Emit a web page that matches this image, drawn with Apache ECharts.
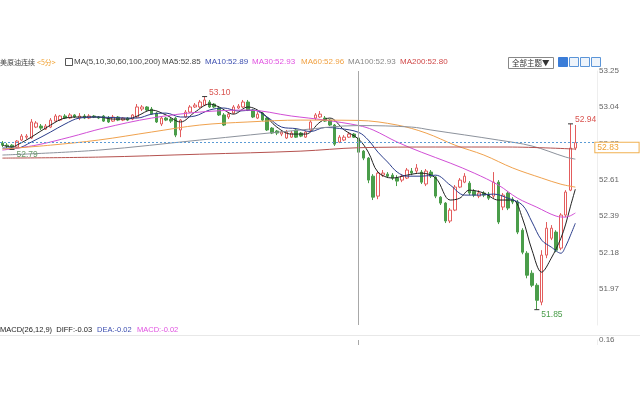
<!DOCTYPE html>
<html><head><meta charset="utf-8">
<script src="https://cdn.jsdelivr.net/npm/echarts@6/dist/echarts.min.js"></script>
<style>html,body{margin:0;padding:0;background:#fff}#c{width:640px;height:345px}</style>
</head><body><div id="c"></div>
<script>
// OHLC: [open, close, low, high]
const candles = [
[52.827,52.815,52.804,52.839],[52.815,52.810,52.798,52.827],[52.815,52.804,52.79,52.821],[52.804,52.839,52.798,52.845],
[52.845,52.868,52.839,52.880],[52.862,52.868,52.851,52.880],[52.857,52.951,52.851,52.968],[52.921,52.945,52.915,52.956],
[52.927,52.915,52.904,52.939],[52.909,52.927,52.904,52.939],[52.921,52.962,52.915,52.974],[52.956,52.986,52.951,52.997],
[52.962,52.986,52.956,52.992],[52.986,52.974,52.968,52.997],[52.974,52.992,52.968,53.003],[52.992,52.980,52.974,52.997],
[52.974,52.986,52.962,53.003],[52.986,52.974,52.968,52.997],[52.974,52.986,52.968,52.997],[52.986,52.980,52.974,52.992],
[52.980,52.974,52.968,52.986],[52.986,52.956,52.951,52.992],[52.974,52.951,52.945,52.986],[52.956,52.980,52.951,52.992],
[52.980,52.962,52.956,52.986],[52.962,52.974,52.956,52.980],[52.974,52.962,52.956,52.980],[52.968,52.992,52.962,52.997],
[52.980,53.039,52.974,53.056],[53.027,53.039,53.015,53.050],[53.039,53.021,53.015,53.044],[53.027,52.997,52.992,53.039],
[53.003,52.951,52.945,53.009],[52.939,52.974,52.927,52.986],[52.974,52.962,52.956,52.980],[52.968,52.956,52.945,52.974],
[52.974,52.874,52.862,52.980],[52.904,52.962,52.862,52.968],[52.980,53.009,52.974,53.021],[53.009,53.039,53.003,53.050],
[53.039,53.050,53.033,53.062],[53.039,53.068,53.033,53.080],[53.050,53.080,53.044,53.10],[53.068,53.039,53.033,53.080],
[53.056,53.039,53.033,53.062],[53.033,52.992,52.986,53.044],[52.992,52.933,52.927,53.003],[52.980,52.997,52.968,53.009],
[53.003,53.039,52.997,53.050],[53.033,53.044,53.027,53.056],[53.039,53.068,53.033,53.080],[53.068,53.021,53.015,53.080],
[53.021,52.980,52.974,53.027],[52.974,52.997,52.968,53.009],[53.003,52.962,52.956,53.009],[52.974,52.904,52.898,52.980],
[52.915,52.886,52.880,52.921],[52.898,52.886,52.874,52.904],[52.880,52.892,52.868,52.898],[52.857,52.892,52.851,52.904],
[52.862,52.886,52.857,52.898],[52.904,52.862,52.857,52.909],[52.886,52.868,52.862,52.892],[52.862,52.892,52.857,52.898],
[52.904,52.951,52.892,52.962],[52.974,52.992,52.962,53.003],[52.980,52.997,52.974,53.015],[52.974,52.956,52.951,52.986],
[52.962,52.933,52.927,52.968],[52.933,52.821,52.810,52.939],[52.833,52.862,52.827,52.874],[52.845,52.862,52.839,52.874],
[52.862,52.880,52.857,52.892],[52.880,52.862,52.857,52.886],[52.857,52.774,52.768,52.862],[52.780,52.739,52.727,52.786],
[52.739,52.610,52.592,52.745],[52.633,52.510,52.493,52.645],[52.516,52.651,52.498,52.663],[52.639,52.651,52.628,52.669],
[52.645,52.633,52.622,52.657],[52.639,52.622,52.610,52.651],[52.622,52.604,52.575,52.639],[52.610,52.633,52.598,52.645],
[52.622,52.669,52.616,52.681],[52.663,52.651,52.639,52.681],[52.663,52.681,52.651,52.704],[52.657,52.598,52.587,52.669],
[52.587,52.663,52.575,52.675],[52.657,52.633,52.622,52.669],[52.628,52.516,52.504,52.633],[52.510,52.475,52.464,52.516],
[52.475,52.370,52.358,52.481],[52.370,52.434,52.358,52.446],[52.434,52.569,52.428,52.581],[52.569,52.610,52.563,52.622],
[52.598,52.633,52.592,52.651],[52.592,52.534,52.522,52.604],[52.545,52.522,52.510,52.557],[52.516,52.534,52.504,52.551],
[52.534,52.522,52.510,52.545],[52.528,52.504,52.493,52.540],[52.516,52.598,52.504,52.657],[52.598,52.364,52.352,52.610],
[52.452,52.522,52.434,52.534],[52.534,52.446,52.434,52.545],[52.498,52.481,52.469,52.510],[52.481,52.305,52.293,52.493],
[52.316,52.187,52.175,52.328],[52.181,52.052,52.034,52.193],[52.064,51.993,51.982,52.081],[51.993,51.905,51.85,52.005],
[51.894,52.170,51.876,52.199],[52.170,52.328,52.152,52.364],[52.269,52.328,52.258,52.346],[52.305,52.199,52.187,52.316],
[52.211,52.405,52.199,52.416],[52.405,52.540,52.393,52.551],[52.551,52.798,52.545,52.94],[52.798,52.83,52.786,52.933]
];
// moving averages read at selected bars: [barIndex, value]
const ma5 = [[0,52.815],[2,52.804],[3,52.815],[6,52.862],[10,52.933],[13,52.974],[16,52.980],[20,52.980],[23,52.968],[26,52.968],[28,52.986],[31,53.021],[34,52.992],[37,52.951],[40,53.009],[43,53.056],[45,53.039],[48,52.997],[51,53.039],[54,53.003],[57,52.921],[60,52.880],[63,52.880],[66,52.951],[68,52.974],[71,52.904],[74,52.85],[76,52.774],[78,52.657],[81,52.622],[84,52.639],[87,52.651],[90,52.622],[93,52.493],[95,52.504],[97,52.551],[100,52.534],[103,52.493],[106,52.493],[108,52.387],[110,52.199],[112,52.070],[114,52.152],[116,52.269],[117,52.352],[118,52.457],[119,52.557]];
const ma10 = [[0,52.798],[3,52.798],[6,52.833],[10,52.892],[13,52.939],[16,52.974],[20,52.980],[26,52.974],[28,52.974],[31,52.997],[34,53.003],[37,52.980],[40,52.986],[43,53.021],[46,53.033],[49,53.015],[52,53.021],[55,52.980],[58,52.921],[61,52.912],[64,52.895],[67,52.919],[70,52.913],[74,52.89],[76,52.845],[78,52.774],[80,52.716],[82,52.657],[84,52.633],[87,52.633],[90,52.639],[93,52.581],[96,52.522],[99,52.522],[102,52.528],[105,52.504],[108,52.464],[110,52.364],[112,52.258],[114,52.217],[116,52.181],[117,52.222],[118,52.287],[119,52.357]];
const ma30 = [[0,52.786],[7,52.815],[14,52.862],[21,52.915],[31,52.974],[41,53.009],[51,53.021],[60,52.986],[67,52.962],[74,52.93],[77,52.904],[82,52.833],[87,52.774],[93,52.710],[98,52.651],[103,52.581],[107,52.504],[111,52.451],[115,52.399],[117,52.393],[119,52.417]];
const ma60 = [[0,52.792],[10,52.815],[20,52.845],[31,52.892],[41,52.933],[51,52.951],[62,52.962],[74,52.96],[82,52.933],[88,52.886],[94,52.815],[100,52.757],[106,52.681],[112,52.622],[116,52.586],[119,52.569]];
const ma100 = [[0,52.757],[20,52.786],[41,52.845],[62,52.904],[74,52.93],[85,52.921],[89,52.904],[103,52.845],[110,52.810],[117,52.745],[119,52.733]];
const ma200 = [[0,52.739],[20,52.745],[41,52.762],[62,52.780],[74,52.80],[90,52.804],[105,52.804],[119,52.792]];
const categories = candles.map((_, i) => String(i));
const yTicks = ['51.76','51.97','52.18','52.39','52.61','52.82','53.04','53.25'];
const yMin = 51.76, yMax = 53.25;
const lastPrice = 52.83;
const cursorIndex = 74;
const highMark = {idx: '42', v: 53.10}, lowMark0 = {idx: '2', v: 52.79};
const highMark2 = {idx: '118', v: 52.94}, lowMark = {idx: '111', v: 51.85};

const xData = categories.concat(['', '', '', '']);
const step = (yMax - yMin) / 7;
const font = '"Liberation Sans", Arial, "Noto Sans CJK SC", sans-serif';
const cjk = '"Noto Sans CJK SC", sans-serif';
const up = '#e35d5d', down = '#4a9d4a';

function mp(m, text, color, above) {
  return {coord: [m.idx, m.v], symbol: 'rect', symbolSize: [5, 1], itemStyle: {color: '#333'},
    label: {show: true, formatter: text, position: 'right', distance: 2, offset: [0, above ? -4 : 5],
      color: color, fontSize: 8.5, fontFamily: font}};
}
function line(name, data, color) {
  return {name, type: 'line', data, smooth: 0.35, symbol: 'none', xAxisIndex: 0, yAxisIndex: 0,
    lineStyle: {width: 1, color}, itemStyle: {color}, silent: true, z: 3};
}
const chart = echarts.init(document.getElementById('c'), null, {renderer: 'canvas'});
const txt = (x, y, s, fill, f) => ({type: 'text', left: x, top: y,
  style: {text: s, fill, font: f || ('8px ' + font)}, silent: true});
const pointer = {show: true, value: cursorIndex, status: 'show', type: 'line', snap: true,
  label: {show: false}, lineStyle: {color: '#a8a8a8', width: 1, type: 'solid'}, triggerTooltip: false};
chart.setOption({
  animation: false,
  backgroundColor: '#fff',
  axisPointer: {link: [{xAxisIndex: 'all'}]},
  grid: [
    {left: 0, top: 71, width: 597, height: 254},
    {left: 0, top: 340, width: 597, height: 60}
  ],
  xAxis: [
    {type: 'category', data: xData, gridIndex: 0, boundaryGap: true,
      axisLine: {show: false}, axisTick: {show: false}, axisLabel: {show: false}, splitLine: {show: false},
      axisPointer: pointer},
    {type: 'category', data: xData, gridIndex: 1, boundaryGap: true,
      axisLine: {show: false}, axisTick: {show: false}, axisLabel: {show: false}, splitLine: {show: false},
      axisPointer: pointer}
  ],
  yAxis: [
    {type: 'value', gridIndex: 0, position: 'right', min: yMin, max: yMax, interval: step, scale: true,
      axisLine: {show: true, lineStyle: {color: '#eeeeee'}}, axisTick: {show: false}, splitLine: {show: false},
      axisLabel: {margin: 2, color: '#666', fontSize: 8, fontFamily: font,
        formatter: (v) => { const k = Math.round((v - yMin) / step); return k === 0 ? '' : yTicks[k]; }}},
    {type: 'value', gridIndex: 1, position: 'right', min: -0.16, max: 0.16, interval: 0.16,
      axisLine: {show: true, lineStyle: {color: '#eeeeee'}}, axisTick: {show: false}, splitLine: {show: false},
      axisLabel: {margin: 2, color: '#666', fontSize: 8, fontFamily: font,
        formatter: (v) => v > 0.1 ? '0.16' : ''}}
  ],
  series: [
    {type: 'candlestick', data: candles, xAxisIndex: 0, yAxisIndex: 0, barWidth: 3, z: 2,
      itemStyle: {color: '#ffffff', color0: down, borderColor: up, borderColor0: down, borderWidth: 1},
      markLine: {silent: true, symbol: ['none', 'none'], animation: false,
        data: [{yAxis: lastPrice}], label: {show: false},
        lineStyle: {color: '#5b9bd5', type: [2, 2], width: 1}},
      markPoint: {silent: true, animation: false, data: [
        mp(highMark, '53.10', '#d9534f', true), mp(lowMark0, '52.79', '#6a9a6a', false),
        mp(highMark2, '52.94', '#d9534f', true), mp(lowMark, '51.85', '#4a9d4a', false),
        {coord: ['119', lastPrice], symbol: 'rect', symbolSize: 0,
          label: {show: true, position: 'right', distance: 20, offset: [0, 5], formatter: String(lastPrice),
            color: '#f0a030', fontSize: 8.5, fontFamily: font, backgroundColor: '#fff',
            borderColor: '#f0b050', borderWidth: 1, padding: [1, 20, 0, 2]}}
      ]}},
    line('MA5', ma5, '#222222'),
    line('MA10', ma10, '#2c3e8c'),
    line('MA30', ma30, '#d14fd6'),
    line('MA60', ma60, '#f0a24e'),
    line('MA100', ma100, '#8c929c'),
    line('MA200', ma200, '#b5524f'),
    {type: 'bar', data: [], xAxisIndex: 1, yAxisIndex: 1}
  ],
  graphic: [
    txt(0, 58.5, '美原油连续', '#444', '7px ' + cjk),
    txt(37, 58.5, '<5分>', '#f0a030', '7px ' + cjk),
    {type: 'rect', left: 65, top: 58, shape: {width: 7, height: 7}, style: {fill: '#fff', stroke: '#555', lineWidth: 1}, silent: true},
    txt(74, 58, 'MA(5,10,30,60,100,200)', '#444'),
    txt(162, 58, 'MA5:52.85', '#444'),
    txt(205, 58, 'MA10:52.89', '#3d4fb0'),
    txt(252, 58, 'MA30:52.93', '#e050e0'),
    txt(301, 58, 'MA60:52.96', '#f0a040'),
    txt(348, 58, 'MA100:52.93', '#888'),
    txt(400, 58, 'MA200:52.80', '#d04848'),
    {type: 'rect', left: 508, top: 57, shape: {width: 45, height: 11}, style: {fill: '#fff', stroke: '#888', lineWidth: 1}, silent: true},
    txt(512, 59, '全部主题▼', '#333', '7.5px ' + cjk),
    {type: 'rect', left: 558, top: 57, shape: {width: 9, height: 9}, style: {fill: '#3b7dd8', stroke: '#3b7dd8'}, silent: true},
    {type: 'rect', left: 569, top: 57, shape: {width: 9, height: 9}, style: {fill: '#eef4fb', stroke: '#5b95d8'}, silent: true},
    {type: 'rect', left: 580, top: 57, shape: {width: 9, height: 9}, style: {fill: '#eef4fb', stroke: '#5b95d8'}, silent: true},
    {type: 'rect', left: 591, top: 57, shape: {width: 9, height: 9}, style: {fill: '#eef4fb', stroke: '#5b95d8'}, silent: true},
    txt(0, 326, 'MACD(26,12,9)  DIFF:-0.03', '#222', '7.5px ' + font),
    txt(97, 326, 'DEA:-0.02', '#3d4fb0', '7.5px ' + font),
    txt(137, 326, 'MACD:-0.02', '#e050e0', '7.5px ' + font),
    {type: 'line', shape: {x1: 0, y1: 335.5, x2: 640, y2: 335.5}, style: {stroke: '#e8e8e8', lineWidth: 1}, silent: true}
  ]
});
</script></body></html>
